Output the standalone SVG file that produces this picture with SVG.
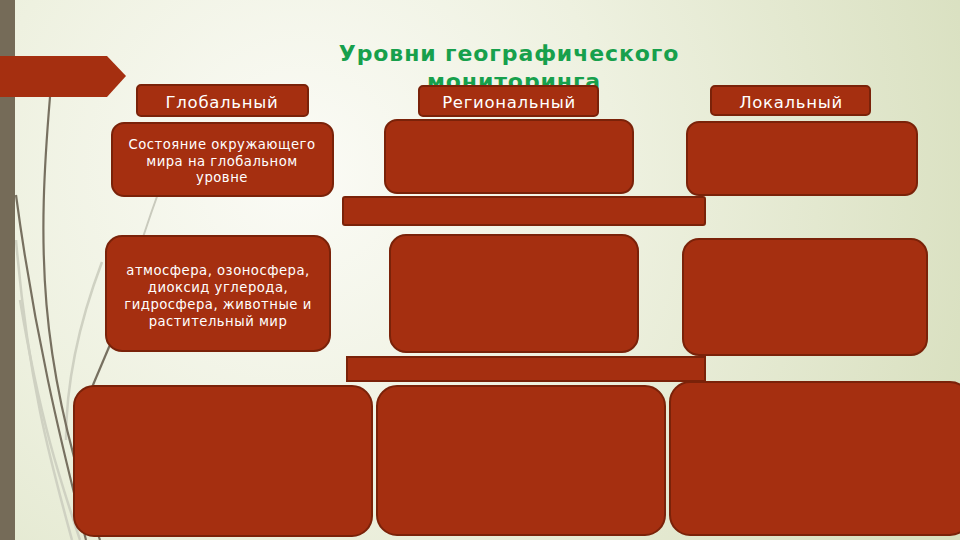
<svg xmlns="http://www.w3.org/2000/svg" width="960" height="540" viewBox="0 0 960 540">
  <defs>
    <radialGradient id="bg" cx="300" cy="170" r="700" gradientUnits="userSpaceOnUse">
      <stop offset="0" stop-color="#fbfbf6"/>
      <stop offset="0.45" stop-color="#eef1e0"/>
      <stop offset="1" stop-color="#d9e0c0"/>
    </radialGradient>
    <style>
      .box { fill: #a52f10; stroke: #7a2209; stroke-width: 2; }
      .hdr { font-family: "DejaVu Sans", "Liberation Sans", sans-serif; font-size: 16.5px; fill: #ffffff; text-anchor: middle; letter-spacing: 0.7px; }
      .txt { font-family: "DejaVu Sans", "Liberation Sans", sans-serif; font-size: 13.2px; fill: #ffffff; text-anchor: middle; letter-spacing: 0.5px; }
      .title { font-family: "DejaVu Sans", "Liberation Sans", sans-serif; font-size: 22px; font-weight: bold; fill: #17a04c; text-anchor: middle; letter-spacing: 0.9px; }
      .deco { fill: none; stroke: #777060; stroke-width: 2.2; }
      .decol { fill: none; stroke: #cfd1c2; stroke-width: 2.5; }
    </style>
  </defs>

  <rect x="0" y="0" width="960" height="540" fill="url(#bg)"/>

  <!-- decorative background -->
  <g id="decoration">
    <path class="decol" d="M16,240 C 28,380 50,460 72,540"/>
    <path class="decol" d="M102,262 C 80,320 66,380 66,440"/>
    <path class="decol" d="M20,300 C 40,420 60,480 80,540"/>
    <path d="M165,175 Q 140,240 112,340" fill="none" stroke="#c9cabd" stroke-width="2"/>
    <path class="deco" d="M112,340 L 90,392" stroke-width="2"/>
    <path class="deco" d="M50,97 C 38,240 36,360 100,540"/>
    <path class="deco" d="M16,195 C 34,330 60,440 86,540"/>
    <rect x="0" y="0" width="15" height="540" fill="#756b58"/>
    <polygon points="0,56 107,56 126,76 107,97 0,97" fill="#a52f10"/>
  </g>

  <g id="title">
    <text class="title" x="509" y="61">Уровни географического</text>
    <text class="title" x="514" y="89">мониторинга</text>
  </g>

  <g id="hdr-global">
    <rect class="box" x="137" y="85" width="171" height="31" rx="4"/>
    <text class="hdr" x="222" y="108">Глобальный</text>
  </g>
  <g id="hdr-regional">
    <rect class="box" x="419" y="86" width="179" height="30" rx="4"/>
    <text class="hdr" x="509" y="108">Региональный</text>
  </g>
  <g id="hdr-local">
    <rect class="box" x="711" y="86" width="159" height="29" rx="4"/>
    <text class="hdr" x="791" y="108">Локальный</text>
  </g>

  <g id="global-1">
    <rect class="box" x="112" y="123" width="221" height="73" rx="12"/>
    <text class="txt" x="222" y="149">Состояние окружающего</text>
    <text class="txt" x="222" y="166">мира на глобальном</text>
    <text class="txt" x="222" y="182">уровне</text>
  </g>
  <g id="regional-1">
    <rect class="box" x="385" y="120" width="248" height="73" rx="12"/>
  </g>
  <g id="local-1">
    <rect class="box" x="687" y="122" width="230" height="73" rx="12"/>
  </g>

  <g id="bar-1">
    <rect class="box" x="343" y="197" width="362" height="28" rx="2"/>
  </g>

  <g id="global-2">
    <rect class="box" x="106" y="236" width="224" height="115" rx="16"/>
    <text class="txt" x="218" y="275">атмосфера, озоносфера,</text>
    <text class="txt" x="218" y="292">диоксид углерода,</text>
    <text class="txt" x="218" y="309">гидросфера, животные и</text>
    <text class="txt" x="218" y="326">растительный мир</text>
  </g>
  <g id="regional-2">
    <rect class="box" x="390" y="235" width="248" height="117" rx="16"/>
  </g>
  <g id="local-2">
    <rect class="box" x="683" y="239" width="244" height="116" rx="16"/>
  </g>

  <g id="bar-2">
    <rect class="box" x="347" y="357" width="358" height="24"/>
  </g>

  <g id="bottom-1">
    <rect class="box" x="74" y="386" width="298" height="150" rx="20"/>
  </g>
  <g id="bottom-2">
    <rect class="box" x="377" y="386" width="288" height="149" rx="20"/>
  </g>
  <g id="bottom-3">
    <rect class="box" x="670" y="382" width="300" height="153" rx="20"/>
  </g>

  <g id="connectors"></g>
</svg>
